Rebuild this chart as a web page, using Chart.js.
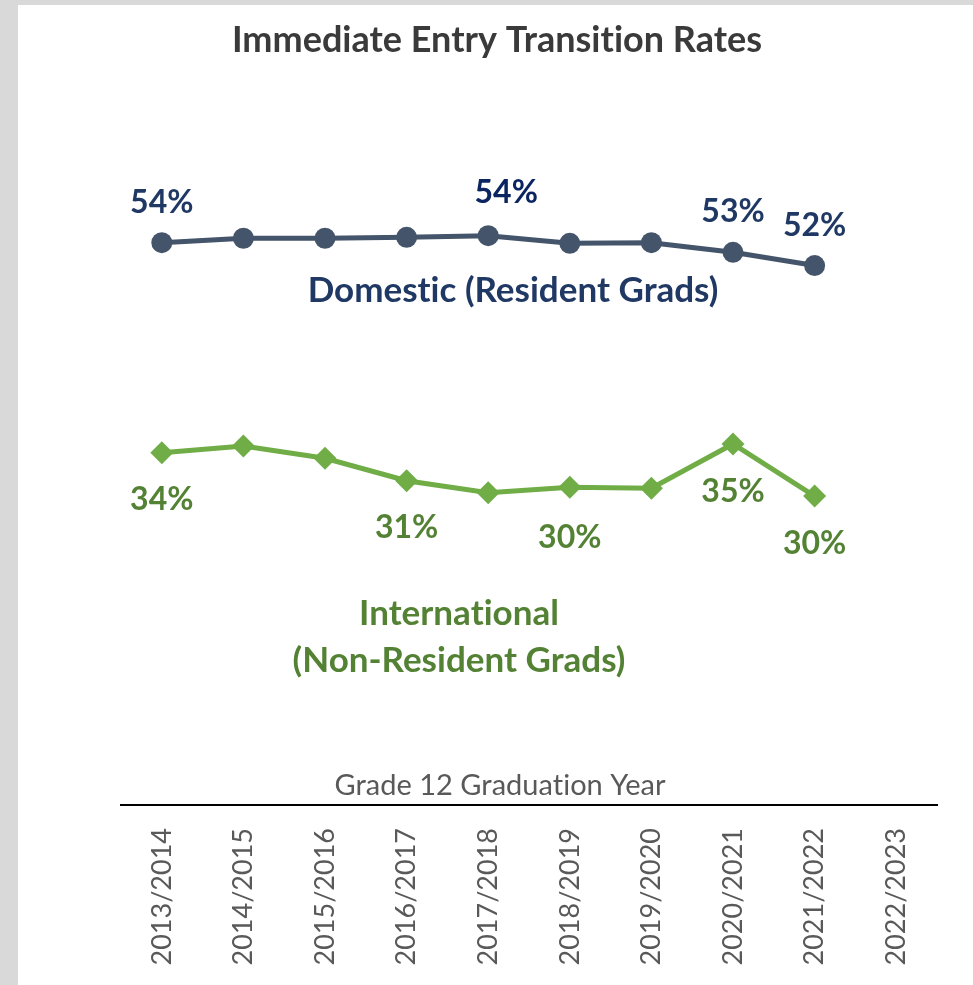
<!DOCTYPE html>
<html>
<head>
<meta charset="utf-8">
<script src="https://cdn.jsdelivr.net/npm/chart.js@4"></script>
<style>
  html, body { margin: 0; padding: 0; background: #d9d9d9; }
  #wrap { position: absolute; left: 18px; top: 5px; width: 955px; height: 980px; background: #ffffff; }
  canvas { display: block; font-variant-ligatures: none; }
</style>
</head>
<body>
<div id="wrap"><canvas id="c" width="955" height="980"></canvas></div>
<script>
// ---- Data ----
const categories = ['2013/2014','2014/2015','2015/2016','2016/2017','2017/2018','2018/2019','2019/2020','2020/2021','2021/2022','2022/2023'];
const domesticValues = [53.73, 54.15, 54.15, 54.24, 54.4, 53.67, 53.73, 52.81, 51.55, null];
const internationalValues = [33.73, 34.37, 33.2, 31.06, 29.92, 30.45, 30.34, 34.56, 29.6, null];
const domesticLabelIdx = [0, 4, 7, 8];
const internationalLabelIdx = [0, 3, 5, 7, 8];
const chartTitle = 'Immediate Entry Transition Rates';
const xAxisTitle = 'Grade 12 Graduation Year';
const domesticName = ['Domestic (Resident Grads)'];
const internationalName = ['International', '(Non-Resident Grads)'];

const FONT = 'Lato, "Open Sans", sans-serif';

function drawText(ctx, text, x, yCenter, size, weight, color) {
  ctx.save();
  ctx.font = weight + ' ' + size + 'px ' + FONT;
  ctx.fillStyle = color;
  ctx.textAlign = 'center';
  ctx.textBaseline = 'alphabetic';
  try { ctx.textRendering = 'optimizeSpeed'; } catch (e) {}
  try { ctx.letterSpacing = '0.01px'; } catch (e) {}
  ctx.fillText(text, x, yCenter + size * 0.36);
  ctx.restore();
}

const textPlugin = {
  id: 'texts',
  afterDatasetsDraw(chart) {
    const ctx = chart.ctx;
    // title
    drawText(ctx, chartTitle, 479, 34, 36, 'bold', '#3a3a3a');
    // axis title
    drawText(ctx, xAxisTitle, 482, 780, 29, 'normal', '#595959');
    // series names
    drawText(ctx, domesticName[0], 495, 284, 35, 'bold', '#203864');
    drawText(ctx, internationalName[0], 441, 607, 35, 'bold', '#548235');
    drawText(ctx, internationalName[1], 441, 654, 35, 'bold', '#548235');
    // data labels
    const specs = [
      { idx: domesticLabelIdx, dy: [-41, -44, -42, -41], dx: [0, 18, 0, 0], color: ['#203864', '#0b2560', '#203864', '#203864'] },
      { idx: internationalLabelIdx, dy: [46, 46, 49, 46, 46], dx: [0, 0, 0, 0, 0], color: ['#548235','#548235','#548235','#548235','#548235'] }
    ];
    chart.data.datasets.forEach((ds, di) => {
      const meta = chart.getDatasetMeta(di);
      const s = specs[di];
      s.idx.forEach((i, j) => {
        const el = meta.data[i];
        const txt = Math.round(ds.data[i]) + '%';
        drawText(ctx, txt, el.x + s.dx[j], el.y + s.dy[j], 32, 'bold', s.color[j]);
      });
    });
  }
};

new Chart(document.getElementById('c'), {
  type: 'line',
  data: {
    labels: categories,
    datasets: [
      {
        label: 'Domestic (Resident Grads)',
        data: domesticValues,
        borderColor: '#44546A',
        backgroundColor: '#44546A',
        borderWidth: 5,
        pointStyle: 'circle',
        pointRadius: 10.5,
        pointBorderWidth: 0,
        pointBackgroundColor: '#44546A',
        tension: 0
      },
      {
        label: 'International (Non-Resident Grads)',
        data: internationalValues,
        borderColor: '#70AD47',
        backgroundColor: '#70AD47',
        borderWidth: 5,
        pointStyle: 'rectRot',
        pointRadius: 11.5,
        pointBorderWidth: 0,
        pointBackgroundColor: '#70AD47',
        tension: 0
      }
    ]
  },
  options: {
    responsive: false,
    animation: false,
    devicePixelRatio: 1,
    layout: { padding: { left: 103, right: 36, top: 66, bottom: 5 } },
    plugins: {
      legend: { display: false },
      title: { display: false },
      tooltip: { enabled: false }
    },
    scales: {
      x: {
        type: 'category',
        offset: true,
        grid: { display: false, drawTicks: false },
        border: { display: true, color: '#000000', width: 2 },
        ticks: {
          minRotation: 90,
          maxRotation: 90,
          padding: 23,
          color: '#595959',
          font: { family: FONT, size: 27, weight: 'normal' }
        },
        afterFit(scale) { scale.height = 175; }
      },
      y: {
        display: false,
        min: 0.18,
        max: 70.08
      }
    }
  },
  plugins: [textPlugin]
});
</script>
</body>
</html>
